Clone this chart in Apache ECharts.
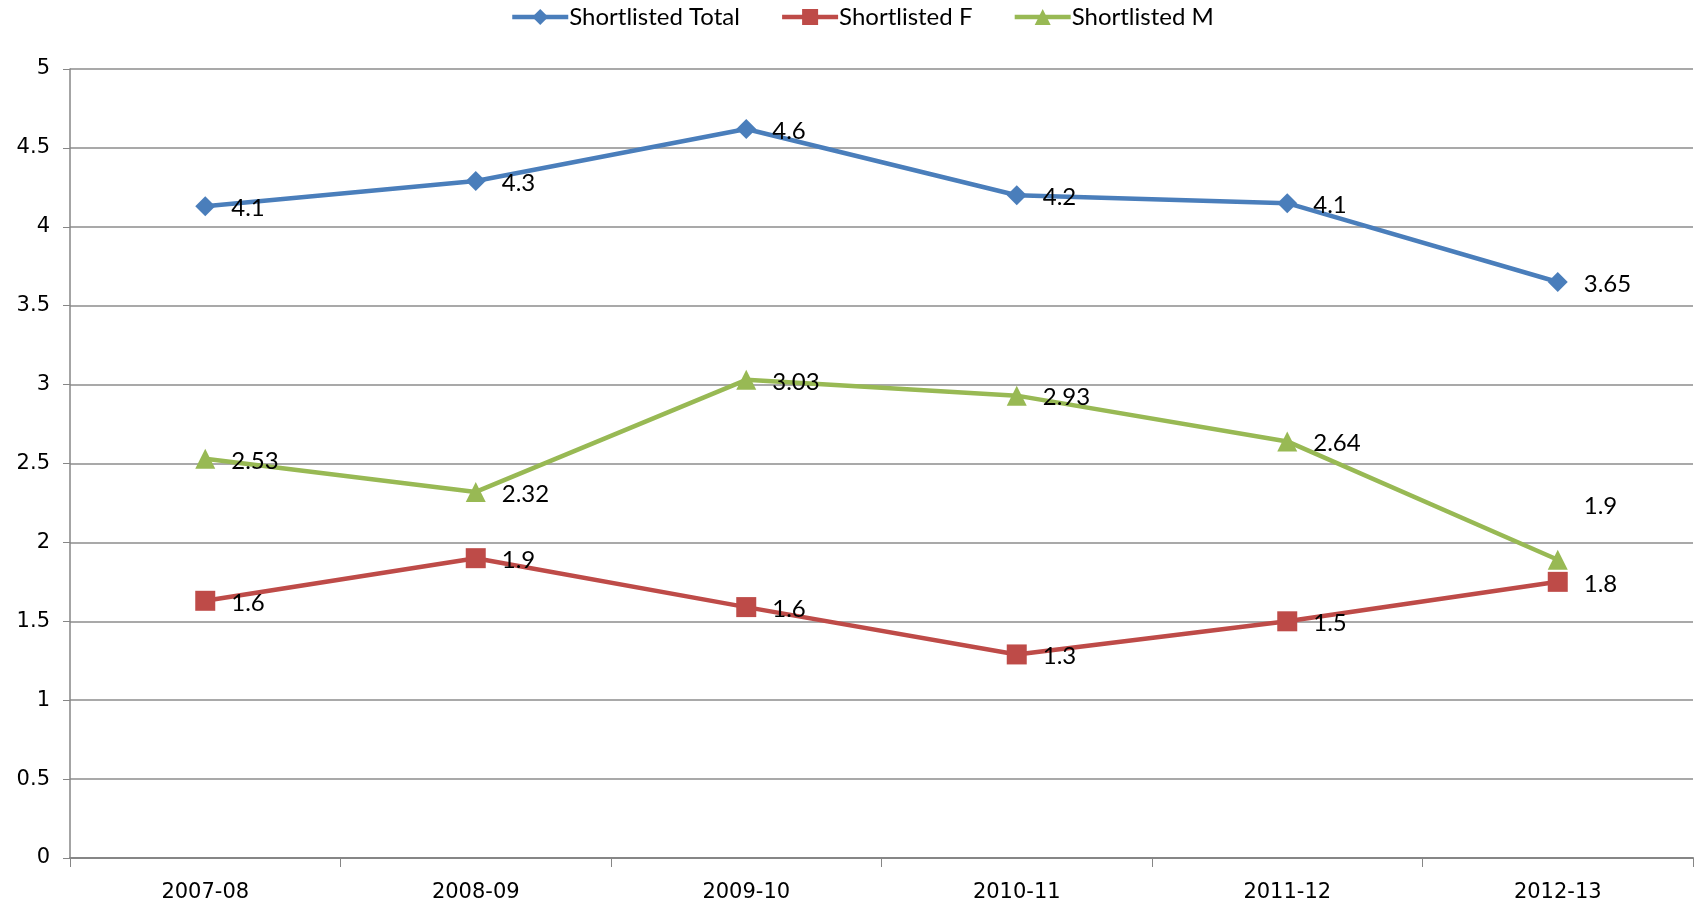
<!DOCTYPE html>
<html>
<head>
<meta charset="utf-8">
<script src="https://cdn.jsdelivr.net/npm/echarts@6/dist/echarts.min.js"></script>
<style>
  html, body { margin: 0; padding: 0; background: #fff; }
  #chart { width: 1702px; height: 909px; }
</style>
</head>
<body>
<div id="chart"></div>
<script>
  // 数据
  const years = ['2007-08', '2008-09', '2009-10', '2010-11', '2011-12', '2012-13']
  const totalValues = [4.13, 4.29, 4.62, 4.20, 4.15, 3.65]
  const femaleValues = [1.63, 1.90, 1.59, 1.29, 1.50, 1.75]
  const maleValues = [2.53, 2.32, 3.03, 2.93, 2.64, 1.89]
  const totalLabels = ['4.1', '4.3', '4.6', '4.2', '4.1', '3.65']
  const femaleLabels = ['1.6', '1.9', '1.6', '1.3', '1.5', '1.8']
  const maleLabels = ['2.53', '2.32', '3.03', '2.93', '2.64', '1.9']
  const yTicks = ['0', '0.5', '1', '1.5', '2', '2.5', '3', '3.5', '4', '4.5', '5']

  const labelFont = 'Lato, "Open Sans", sans-serif'
  const axisFont = '"DejaVu Sans", Verdana, sans-serif'

  function makeSeries(name, values, labels, color, symbol, symbolSize, special) {
    return {
      name: name,
      type: 'line',
      symbol: symbol,
      symbolSize: symbolSize,
      lineStyle: { width: 4.5, color: color },
      itemStyle: { color: color },
      label: {
        show: true,
        position: 'right',
        distance: 16,
        offset: [0, 2],
        color: '#000',
        fontSize: 24,
        fontFamily: labelFont,
        formatter: p => labels[p.dataIndex]
      },
      data: values.map((v, i) => {
        if (special && special[i]) {
          return { value: v, label: special[i] }
        }
        return v
      }),
      z: 3
    }
  }

  let chart = echarts.init(document.getElementById('chart'))
  chart.setOption({
    animation: false,
    backgroundColor: '#fff',
    legend: {
      top: 0,
      left: 505,
      itemWidth: 56,
      itemHeight: 20,
      itemGap: 40,
      lineStyle: { width: 4.5 },
      textStyle: { fontSize: 24, fontFamily: labelFont, color: '#000', padding: [0, 0, 0, -4] },
      data: ['Shortlisted Total', 'Shortlisted F', 'Shortlisted M']
    },
    grid: { left: 70, right: 9, top: 69, bottom: 51, containLabel: false },
    xAxis: {
      type: 'category',
      data: years,
      boundaryGap: true,
      axisLine: { lineStyle: { color: '#868686', width: 2 } },
      axisTick: { show: true, length: 9, lineStyle: { color: '#868686', width: 1 } },
      axisLabel: { fontSize: 21, fontFamily: axisFont, color: '#000', margin: 24 },
      splitLine: { show: false }
    },
    yAxis: {
      type: 'value',
      min: 0,
      max: 5,
      interval: 0.5,
      axisLine: { show: true, lineStyle: { color: '#868686', width: 1.5 } },
      axisTick: { show: true, length: 7, lineStyle: { color: '#868686' } },
      axisLabel: {
        fontSize: 21, fontFamily: axisFont, color: '#000', margin: 20,
        formatter: (v, i) => yTicks[i]
      },
      splitLine: { lineStyle: { color: '#8c8c8c', width: 1.5 } }
    },
    series: [
      makeSeries('Shortlisted Total', totalValues, totalLabels, '#4A7EBB', 'diamond', 20),
      makeSeries('Shortlisted F', femaleValues, femaleLabels, '#BE4B48', 'rect', 20),
      makeSeries('Shortlisted M', maleValues, maleLabels, '#98B954', 'triangle', 20,
        { 5: { offset: [0, -53] } })
    ]
  })
</script>
</body>
</html>
